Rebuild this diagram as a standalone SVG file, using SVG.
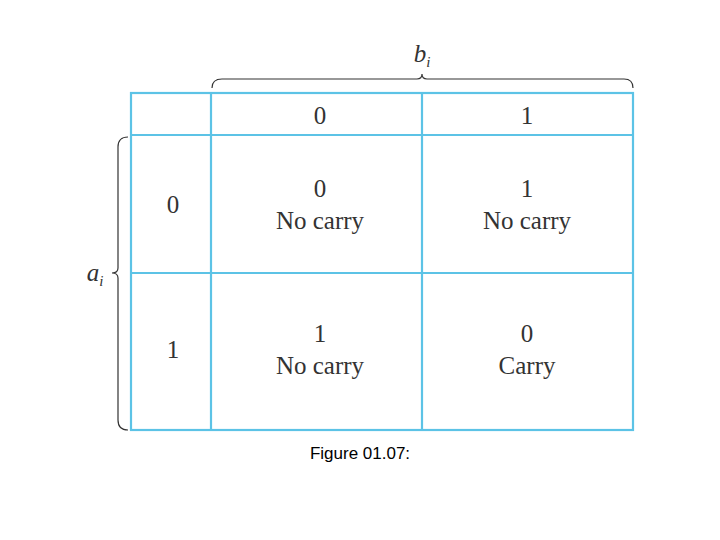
<svg xmlns="http://www.w3.org/2000/svg" width="720" height="540" viewBox="0 0 720 540">
<style>
.g{stroke:#5cc3e6;stroke-width:2.2;fill:none}
.b{stroke:#333;stroke-width:1.2;fill:none}
.t{font-family:"Liberation Serif",serif;font-size:25px;fill:#333;text-anchor:middle}
.i{font-style:italic}
.c{font-family:"Liberation Sans",sans-serif;font-size:17px;fill:#000;text-anchor:middle}
</style>
<rect width="720" height="540" fill="#fff"/>
<g id="grid">
<rect class="g" x="131" y="93" width="502" height="337"/>
<line class="g" x1="211" y1="93" x2="211" y2="430"/>
<line class="g" x1="422" y1="93" x2="422" y2="430"/>
<line class="g" x1="131" y1="135" x2="633" y2="135"/>
<line class="g" x1="131" y1="273" x2="633" y2="273"/>
</g>
<g id="braces">
<path class="b" d="M212,88 Q212,79 222,79 L417,79 Q422,79 422,74 Q422,79 427,79 L624,79 Q633,79 633,88"/>
<path class="b" d="M128,137 Q118,137 118,147 L118,268 Q118,273 112,273 Q118,273 118,278 L118,420 Q118,430 128,430"/>
</g>
<g id="labels">
<text class="t i" x="422" y="62">b<tspan font-size="15" dy="5">i</tspan></text>
<text class="t i" x="95" y="281">a<tspan font-size="15" dy="5">i</tspan></text>
<text class="t" x="320" y="124">0</text>
<text class="t" x="527" y="124">1</text>
<text class="t" x="173" y="213">0</text>
<text class="t" x="173" y="358">1</text>
<text class="t" x="320" y="197">0</text>
<text class="t" x="320" y="229">No carry</text>
<text class="t" x="527" y="197">1</text>
<text class="t" x="527" y="229">No carry</text>
<text class="t" x="320" y="342">1</text>
<text class="t" x="320" y="374">No carry</text>
<text class="t" x="527" y="342">0</text>
<text class="t" x="527" y="374">Carry</text>
<text class="c" x="360" y="459">Figure 01.07:</text>
</g>
</svg>
